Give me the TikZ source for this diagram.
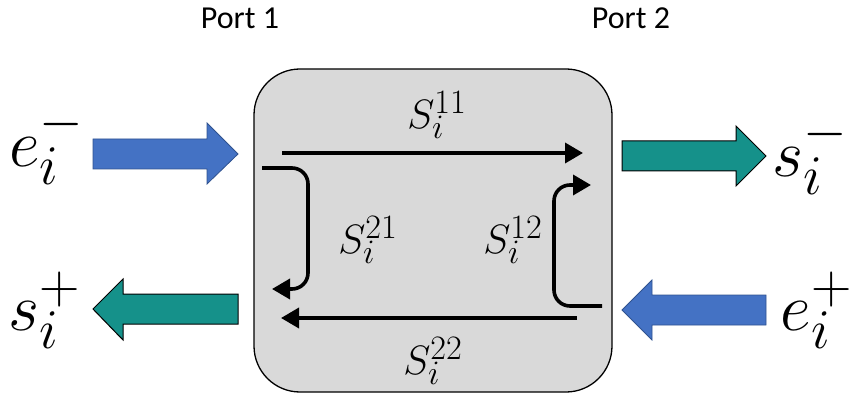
\documentclass[tikz,border=0pt]{standalone}
\usepackage{fontspec}
\newfontfamily\portfont{Carlito}
\usetikzlibrary{arrows.meta}
\definecolor{bblue}{HTML}{4472C4}
\definecolor{bblueedge}{HTML}{2F528F}
\definecolor{teal2}{HTML}{15918A}
\definecolor{boxgray}{HTML}{D9D9D9}
\tikzset{
  bigfont/.style={font=\Huge, inner sep=0pt, scale=2.7},
  sfont/.style={font=\Huge, inner sep=0pt, scale=1.65},
  portlbl/.style={font=\portfont\fontsize{32}{36}\selectfont, inner sep=0pt},
  bluearrow/.style={fill=bblue, draw=bblueedge, line width=0.8pt},
  tealarrow/.style={fill=teal2, draw=black, line width=1pt},
  flow/.style={line width=3.6pt, -{Triangle[length=18pt,width=20pt]}},
}
\begin{document}
\begin{tikzpicture}[x=1pt,y=-1pt]
\useasboundingbox (0,0) rectangle (854,398);
% box
\draw[fill=boxgray, line width=1.3pt, rounded corners=46pt] (254,69) rectangle (612,392);
% port labels
\node[portlbl] (p1) at (240,18) {Port 1};
\node[portlbl] (p2) at (631,18) {Port 2};
% big arrows
\draw[bluearrow] (93,139) -- (207,139) -- (207,123) -- (238,154) -- (207,184) -- (207,169) -- (93,169) -- cycle;
\draw[tealarrow] (238,294) -- (123,294) -- (123,279) -- (93,309) -- (123,340) -- (123,324) -- (238,324) -- cycle;
\draw[tealarrow] (622,141) -- (736,141) -- (736,126) -- (766,156) -- (736,186) -- (736,171) -- (622,171) -- cycle;
\draw[bluearrow] (766,295) -- (652,295) -- (652,280) -- (622,310) -- (652,340) -- (652,325) -- (766,325) -- cycle;
% outer labels
\node[bigfont] (em) at (47,145) {$e_i^-$};
\node[bigfont] (sp) at (45,310) {$s_i^+$};
\node[bigfont] (sm) at (810,155) {$s_i^-$};
\node[bigfont] (ep) at (817,310) {$e_i^+$};
% inner coordinates
\coordinate (a1) at (282,153);
\coordinate (a2) at (583,153);
\coordinate (b1) at (577,318);
\coordinate (b2) at (281,318);
\coordinate (c1) at (262,168);
\coordinate (c2) at (272,289);
\coordinate (d1) at (602,306);
\coordinate (d2) at (591,185);
\draw[flow] (a1) -- (a2);
\draw[flow] (b1) -- (b2);
\draw[flow, rounded corners=16pt] (c1) -| (308,289) -- (c2);
\draw[flow, rounded corners=16pt] (d1) -| (554,185) -- (d2);
% inner labels
\node[sfont] (s11) at (437,115) {$S_i^{11}$};
\node[sfont] (s21) at (368,240) {$S_i^{21}$};
\node[sfont] (s12) at (513,240) {$S_i^{12}$};
\node[sfont] (s22) at (433,361) {$S_i^{22}$};
\end{tikzpicture}
\end{document}
